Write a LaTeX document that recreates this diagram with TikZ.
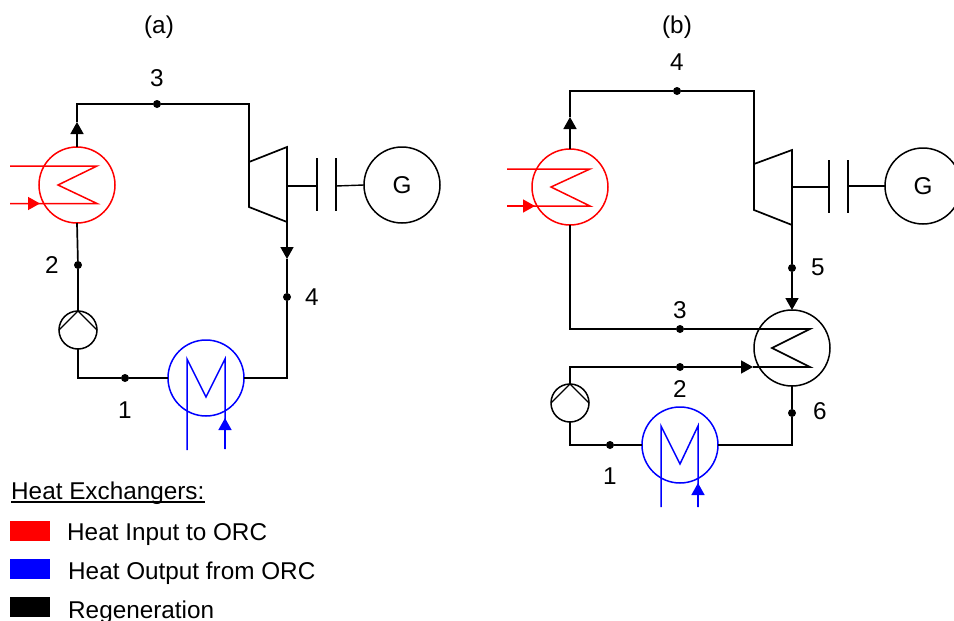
\documentclass[tikz,border=0pt]{standalone}
\usepackage{fontspec}
\setmainfont{Liberation Sans}
\usetikzlibrary{arrows.meta}
\tikzset{
  x=1pt,y=-1pt,
  pipe/.style={line width=1.7pt,black,line join=miter},
  thin pipe/.style={line width=1.4pt,black},
  hx/.style={circle,draw,line width=1.5pt,minimum size=76pt,inner sep=0pt,outer sep=0pt},
  pumpc/.style={circle,draw=black,line width=1.5pt,minimum size=38pt,inner sep=0pt,outer sep=0pt},
  hot/.style={line width=1.5pt,red,line join=miter},
  cold/.style={line width=1.5pt,blue,line join=miter},
  tip/.style={-{Triangle[length=12pt,width=13pt]}},
  dot/.style={circle,fill=black,minimum size=8pt,inner sep=0pt,outer sep=0pt},
  lbl/.style={font=\fontsize{24.3}{26}\selectfont,inner sep=0pt},
  leg/.style={font=\fontsize{24.3}{26}\selectfont,inner sep=0pt,anchor=base west},
  swatch/.style={minimum width=40pt,minimum height=20pt,inner sep=0pt,outer sep=0pt,anchor=north west}
}
\begin{document}
\begin{tikzpicture}
\useasboundingbox (0,0) rectangle (954,621);
%---------- (a)
\node[lbl] (ta) at (159,27) {(a)};
\node[hx,draw=red] (ah) at (77,185) {};
\node[hx,draw=black] (ag) at (402,185) {\fontsize{24.3}{26}\selectfont G};
\node[hx,draw=blue] (ac) at (206,378) {};
\node[pumpc] (ap) at (78,330) {};
\coordinate (at1) at (249,162); \coordinate (at2) at (287,147);
\coordinate (at3) at (287,222); \coordinate (at4) at (249,207);
\coordinate (ats) at (287,186);
\coordinate (ab1t) at (317,158); \coordinate (ab1b) at (317,211); \coordinate (ab1) at (317,186);
\coordinate (ab2t) at (336,158); \coordinate (ab2b) at (336,211); \coordinate (ab2) at (336,186);
\coordinate (aa1) at (77,122); \coordinate (aa2) at (287,259);
\coordinate (ac3) at (77,104);
\node[dot] (ad3) at (157,104) {};
\node[dot] (ad2) at (78,265) {};
\node[dot] (ad4) at (287,297) {};
\node[dot] (ad1) at (125,378) {};
\node[lbl] (al3) at (157,78) {3};
\node[lbl] (al2) at (52,265) {2};
\node[lbl] (al4) at (312,297) {4};
\node[lbl] (al1) at (125,410) {1};
\draw[pipe,tip] (ah.north) -- (aa1);
\draw[pipe] (aa1) -- (ac3) -- (ad3) -- (ad3 -| at1) -- (at1);
\draw[pipe] (at1) -- (at2) -- (at3) -- (at4) -- cycle;
\draw[pipe,tip] (at3) -- (aa2);
\draw[pipe] (aa2) -- (ad4) -- (ad4 |- ac.east) -- (ac.east);
\draw[pipe] (ac.west) -- (ad1) -- (ap.south |- ad1) -- (ap.south);
\draw[pipe] (ap.north) -- (ad2) -- (ah.south);
\draw[thin pipe] (ap.north) -- (ap.west);
\draw[thin pipe] (ap.north) -- (ap.east);
\draw[thin pipe] (ats) -- (ab1);
\draw[thin pipe] (ab1t) -- (ab1b);
\draw[thin pipe] (ab2t) -- (ab2b);
\draw[thin pipe] (ab2) -- (ag.west);
\coordinate (ar1) at (10,166); \coordinate (ar2) at (97,166); \coordinate (ar3) at (58,185);
\coordinate (ar4) at (97,203.5); \coordinate (ar5) at (10,203.5); \coordinate (ar6) at (40,203.5);
\draw[hot] (ar1) -- (ar2) -- (ar3) -- (ar4) -- (ar5);
\draw[hot,tip,red] (ar5) -- (ar6);
\coordinate (ab1s) at (187,450); \coordinate (ab2s) at (187,359); \coordinate (ab3s) at (206,397);
\coordinate (ab4s) at (225,359); \coordinate (ab5s) at (225,449); \coordinate (ab6s) at (225,418);
\draw[cold] (ab1s) -- (ab2s) -- (ab3s) -- (ab4s) -- (ab5s);
\draw[cold,tip] (ab5s) -- (ab6s);
%---------- (b)
\node[lbl] (tb) at (677,27) {(b)};
\node[hx,draw=red] (bh) at (570,187) {};
\node[hx,draw=black] (bg) at (923,186) {\fontsize{24.3}{26}\selectfont G};
\node[hx,draw=black] (br) at (792,348) {};
\node[hx,draw=blue] (bc) at (680,445) {};
\node[pumpc] (bp) at (570,403) {};
\coordinate (bt1) at (754,164); \coordinate (bt2) at (792,150);
\coordinate (bt3) at (792,225); \coordinate (bt4) at (754,210);
\coordinate (bts) at (792,187);
\coordinate (bb1t) at (829,160); \coordinate (bb1b) at (829,213); \coordinate (bb1) at (829,187);
\coordinate (bb2t) at (848,160); \coordinate (bb2b) at (848,213); \coordinate (bb2) at (848,186);
\coordinate (ba1) at (570,117);
\coordinate (bc4) at (570,91);
\node[dot] (bd4) at (677,91) {};
\node[dot] (bd5) at (792,268) {};
\node[dot] (bd3) at (680,329) {};
\node[dot] (bd2) at (680,367) {};
\node[dot] (bd1) at (610,445) {};
\node[dot] (bd6) at (792,413) {};
\node[lbl] (bl4) at (677,62) {4};
\node[lbl] (bl5) at (818,267) {5};
\node[lbl] (bl3) at (680,310) {3};
\node[lbl] (bl2) at (680,389) {2};
\node[lbl] (bl1) at (610,476) {1};
\node[lbl] (bl6) at (820,411) {6};
\coordinate (bz1) at (810,329); \coordinate (bz2) at (772,348); \coordinate (bz3) at (810,367);
\coordinate (ba3) at (753,367);
\draw[pipe,tip] (bh.north) -- (ba1);
\draw[pipe] (ba1) -- (bc4) -- (bd4) -- (bd4 -| bt1) -- (bt1);
\draw[pipe] (bt1) -- (bt2) -- (bt3) -- (bt4) -- cycle;
\draw[pipe] (bt3) -- (bd5);
\draw[pipe,tip] (bd5) -- (br.north);
\draw[pipe] (bh.south) -- (bh.south |- bd3) -- (bd3) -- (bz1) -- (bz2) -- (bz3) -- (ba3);
\draw[pipe,tip] (bd2) -- (ba3);
\draw[pipe] (bp.north) -- (bp.north |- bd2) -- (bd2);
\draw[thin pipe] (bp.north) -- (bp.west);
\draw[thin pipe] (bp.north) -- (bp.east);
\draw[pipe] (bp.south) -- (bp.south |- bd1) -- (bd1) -- (bc.west);
\draw[pipe] (bc.east) -- (bd6 |- bc.east) -- (bd6) -- (br.south);
\draw[thin pipe] (bts) -- (bb1);
\draw[thin pipe] (bb1t) -- (bb1b);
\draw[thin pipe] (bb2t) -- (bb2b);
\draw[thin pipe] (bb2) -- (bg.west);
\coordinate (br1) at (507,169); \coordinate (br2) at (590,169); \coordinate (br3) at (551,187);
\coordinate (br4) at (590,206); \coordinate (br5) at (507,206); \coordinate (br6) at (535,206);
\draw[hot] (br1) -- (br2) -- (br3) -- (br4) -- (br5);
\draw[hot,tip] (br5) -- (br6);
\coordinate (bb1s) at (661,507); \coordinate (bb2s) at (661,426); \coordinate (bb3s) at (680,464);
\coordinate (bb4s) at (698,426); \coordinate (bb5s) at (698,507); \coordinate (bb6s) at (698,483);
\draw[cold] (bb1s) -- (bb2s) -- (bb3s) -- (bb4s) -- (bb5s);
\draw[cold,tip] (bb5s) -- (bb6s);
%---------- legend
\node[leg] (lt) at (11,499) {Heat Exchangers:};
\draw[line width=1.2pt] ([yshift=-3pt]lt.base west) -- ([yshift=-3pt]lt.base east);
\node[swatch,fill=red] (s1) at (10,521) {};
\node[swatch,fill=blue] (s2) at (10,559) {};
\node[swatch,fill=black] (s3) at (10,597) {};
\node[leg] (l1) at (67,540) {Heat Input to ORC};
\node[leg] (l2) at (68,579) {Heat Output from ORC};
\node[leg] (l3) at (68,618) {Regeneration};
\end{tikzpicture}
\end{document}
